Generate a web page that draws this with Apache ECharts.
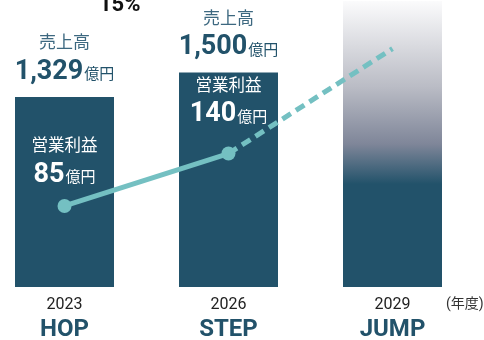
<!DOCTYPE html>
<html>
<head>
<meta charset="utf-8">
<script src="https://cdn.jsdelivr.net/npm/echarts@6/dist/echarts.min.js"></script>
<style>
  html, body { margin: 0; padding: 0; background: #fff; }
  #chart { width: 484px; height: 340px; }
</style>
</head>
<body>
<div id="chart"></div>
<script>
// Fiscal years and phase names
const years = ['2023', '2026', '2029'];
const phases = ['HOP', 'STEP', 'JUMP'];
// Net sales (億円); the 2029 bar is the target
const sales = [1329, 1500, 2000];
const salesText = ['1,329', '1,500', null];
// Operating profit (億円)
const profit = [85, 140, 250];
const profitText = ['85', '140', null];

const NAVY = '#22526A';
const TEAL = '#74C0C2';
const FONT = "Roboto, 'Noto Sans CJK JP', sans-serif";

const chart = echarts.init(document.getElementById('chart'));

const barData = sales.map((v, i) => {
  const item = { value: v };
  if (i === 2) {
    item.itemStyle = {
      color: new echarts.graphic.LinearGradient(0, 0, 0, 1, [
        { offset: 0, color: '#fbfbfc' },
        { offset: 0.3, color: '#babcc5' },
        { offset: 0.5, color: '#7f8699' },
        { offset: 0.64, color: NAVY },
        { offset: 1, color: NAVY }
      ])
    };
    item.label = { show: false };
  }
  return item;
});

const profitLabelDist = [9, 17];
const solidData = profit.map((v, i) => {
  if (i === 2) return null;
  return {
    value: v,
    label: {
      show: true,
      position: 'top',
      distance: profitLabelDist[i],
      formatter: '{t|営業利益}\n{n|' + profitText[i] + '}{u|億円}',
      rich: {
        t: { color: '#fff', fontSize: 16.5, fontFamily: FONT, lineHeight: 26, align: 'center' },
        n: { color: '#fff', fontSize: 27, fontWeight: 'bold', fontFamily: FONT, lineHeight: 30 },
        u: { color: '#fff', fontSize: 15, fontFamily: FONT, lineHeight: 30, padding: [7, 0, 0, 1] }
      }
    }
  };
});
const dashedData = profit.map((v, i) => (i === 0 ? null : v));

chart.setOption({
  animation: false,
  grid: { left: -17.5, right: 9.5, top: 1, bottom: 53, containLabel: false, outerBoundsMode: 'none' },
  xAxis: {
    type: 'category',
    data: years.map((y, i) => y + '|' + phases[i]),
    axisLine: { show: false },
    axisTick: { show: false },
    axisLabel: {
      margin: 8,
      formatter: v => {
        const [y, p] = v.split('|');
        return '{y|' + y + '}\n{p|' + p + '}';
      },
      rich: {
        y: { color: '#222', fontSize: 16, fontFamily: FONT, lineHeight: 20 },
        p: { color: NAVY, fontSize: 24, fontWeight: 'bold', fontFamily: FONT, lineHeight: 30 }
      }
    }
  },
  yAxis: [
    { type: 'value', min: 0, max: 2000, show: false, splitLine: { show: false } },
    { type: 'value', min: 0, max: 300, show: false, splitLine: { show: false } }
  ],
  series: [
    {
      type: 'bar',
      yAxisIndex: 0,
      barWidth: 99,
      data: barData,
      itemStyle: { color: NAVY },
      label: {
        show: true,
        position: 'top',
        distance: 10,
        formatter: p => '{t|売上高}\n{n|' + salesText[p.dataIndex] + '}{u|億円}',
        rich: {
          t: { color: '#3d6880', fontSize: 17, fontFamily: FONT, lineHeight: 26, align: 'center' },
          n: { color: NAVY, fontSize: 27, fontWeight: 'bold', fontFamily: FONT, lineHeight: 30 },
          u: { color: NAVY, fontSize: 15, fontFamily: FONT, lineHeight: 30, padding: [7, 0, 0, 1] }
        }
      },
      z: 1
    },
    {
      type: 'line',
      yAxisIndex: 1,
      data: dashedData,
      showSymbol: false,
      symbol: 'none',
      lineStyle: { color: TEAL, width: 5, type: [10, 6] },
      z: 2
    },
    {
      type: 'line',
      yAxisIndex: 1,
      data: solidData,
      symbol: 'circle',
      symbolSize: 14,
      itemStyle: { color: TEAL },
      lineStyle: { color: TEAL, width: 5 },
      z: 3
    }
  ],
  graphic: [
    {
      type: 'text',
      left: 99,
      top: -6,
      style: { text: '15%', fill: '#111', font: "bold 22px " + FONT }
    },
    {
      type: 'text',
      left: 446,
      top: 298,
      style: { text: '(年度)', fill: '#333', font: "14px " + FONT }
    }
  ]
});
</script>
</body>
</html>
